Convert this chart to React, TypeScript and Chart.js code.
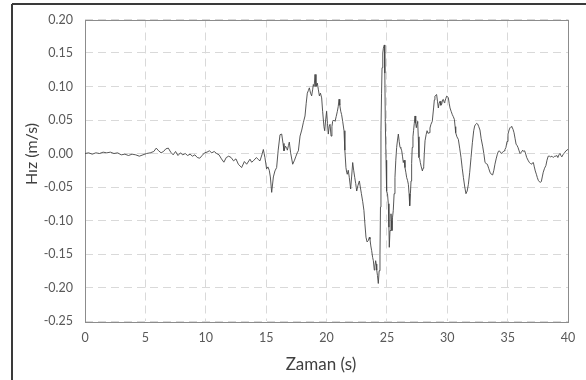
import React, { useEffect, useRef } from "react";
import { Chart, registerables } from "chart.js";

Chart.register(...registerables);

const X_TITLE = "Zaman (s)";
const Y_TITLE = "Hız (m/s)";
const X_MIN = 0;
const X_MAX = 40;
const X_STEP = 5;
const Y_MIN = -0.25;
const Y_MAX = 0.2;
const Y_STEP = 0.05;

// time (s)
const TIME_S: number[] = [
  0, 0.3, 0.6, 0.9, 1.2, 1.5, 1.8, 2.1, 2.4, 2.7,
  3.0, 3.3, 3.6, 3.9, 4.2, 4.5, 4.8, 5.1, 5.4, 5.7,
  5.9, 6.1, 6.3, 6.5, 6.7, 6.9, 7.1, 7.3, 7.5, 7.7,
  7.9, 8.1, 8.3, 8.5, 8.7, 8.9, 9.1, 9.3, 9.5, 9.7,
  9.9, 10.1, 10.3, 10.5, 10.7, 10.9, 11.1, 11.3, 11.5, 11.7,
  11.9, 12.1, 12.3, 12.5, 12.7, 12.97, 13.2, 13.39, 13.66, 13.8,
  13.94, 14.2, 14.35, 14.49, 14.65, 14.77, 14.9, 15.04, 15.15, 15.26,
  15.35, 15.46, 15.6, 15.73, 15.87, 16.0, 16.15, 16.29, 16.4, 16.48,
  16.6, 16.7, 16.76, 16.85, 16.92, 17.03, 17.2, 17.35, 17.47, 17.6,
  17.67, 17.81, 17.95, 18.08, 18.22, 18.32, 18.41, 18.5, 18.58, 18.68,
  18.77, 18.85, 18.91, 18.98, 19.05, 19.13, 19.24, 19.32, 19.41, 19.5,
  19.6, 19.68, 19.79, 19.85, 19.93, 20.01, 20.08, 20.15, 20.22, 20.29,
  20.38, 20.45, 20.51, 20.6, 20.71, 20.8, 20.9, 20.97, 21.04, 21.1,
  21.18, 21.25, 21.34, 21.45, 21.52, 21.61, 21.67, 21.72, 21.8, 21.89,
  22.0, 22.08, 22.17, 22.25, 22.34, 22.42, 22.5, 22.6, 22.72, 22.8,
  22.89, 23.0, 23.1, 23.18, 23.27, 23.36, 23.46, 23.55, 23.6, 23.67,
  23.74, 23.82, 23.88, 23.96, 24.01, 24.07, 24.12, 24.16, 24.22, 24.29,
  24.36, 24.43, 24.47, 24.51, 24.56, 24.6, 24.66, 24.71, 24.79, 24.83,
  24.87, 24.93, 24.98, 25.05, 25.12, 25.17, 25.2, 25.26, 25.34, 25.38,
  25.42, 25.47, 25.53, 25.6, 25.67, 25.74, 25.81, 25.88, 25.95, 26.02,
  26.09, 26.16, 26.23, 26.3, 26.36, 26.43, 26.5, 26.57, 26.64, 26.71,
  26.78, 26.84, 26.89, 26.95, 27.0, 27.05, 27.1, 27.16, 27.21, 27.27,
  27.33, 27.39, 27.44, 27.5, 27.55, 27.6, 27.66, 27.72, 27.77, 27.85,
  27.94, 28.0, 28.05, 28.1, 28.16, 28.25, 28.33, 28.41, 28.49, 28.57,
  28.65, 28.76, 28.87, 28.93, 28.98, 29.05, 29.12, 29.19, 29.26, 29.33,
  29.4, 29.47, 29.54, 29.61, 29.68, 29.75, 29.81, 29.88, 29.95, 30.02,
  30.09, 30.16, 30.23, 30.32, 30.42, 30.5, 30.59, 30.65, 30.7, 30.8,
  30.92, 31.03, 31.14, 31.24, 31.34, 31.45, 31.55, 31.65, 31.75, 31.86,
  31.97, 32.08, 32.19, 32.27, 32.35, 32.44, 32.52, 32.61, 32.71, 32.81,
  32.93, 33.03, 33.13, 33.22, 33.32, 33.43, 33.54, 33.65, 33.76, 33.86,
  33.95, 34.05, 34.15, 34.23, 34.31, 34.4, 34.48, 34.59, 34.7, 34.78,
  34.86, 34.95, 35.03, 35.12, 35.2, 35.28, 35.36, 35.45, 35.53, 35.62,
  35.7, 35.78, 35.86, 35.95, 36.03, 36.14, 36.25, 36.33, 36.41, 36.5,
  36.58, 36.69, 36.8, 36.9, 36.99, 37.06, 37.13, 37.21, 37.29, 37.38,
  37.46, 37.54, 37.62, 37.7, 37.79, 37.87, 37.95, 38.06, 38.17, 38.26,
  38.36, 38.46, 38.56, 38.67, 38.78, 38.89, 39.0, 39.08, 39.16, 39.25,
  39.33, 39.41, 39.49, 39.58, 39.66, 39.75, 39.83, 39.92, 40.0,
];

// velocity (m/s)
const VELOCITY_MS: number[] = [
  0, 0.001, -0.001, 0.001, 0, 0.002, 0.001, 0.002, 0, 0.001,
  -0.002, -0.001, -0.003, -0.001, -0.002, -0.004, -0.002, 0, 0.001, 0.003,
  0.008, 0.004, 0.001, 0.003, 0.007, 0.008, 0.002, -0.002, 0.003, -0.003,
  0.001, -0.002, 0, -0.003, -0.001, -0.004, -0.002, -0.006, -0.007, -0.003,
  0.001, 0.002, 0.004, 0.001, 0.003, 0, -0.002, -0.008, -0.013, -0.006,
  -0.004, -0.006, -0.011, -0.008, -0.016, -0.021, -0.012, -0.016, -0.0085, -0.013,
  -0.011, -0.006, -0.009, -0.011, -0.002, 0.006, -0.006, -0.023, -0.02, -0.025,
  -0.035, -0.058, -0.035, -0.026, -0.021, 0.005, 0.028, 0.029, 0.015, 0.004,
  0.011, 0.008, 0.005, 0.012, 0.017, 0.001, -0.016, -0.01, -0.004, 0.002,
  0.004, 0.026, 0.035, 0.046, 0.056, 0.075, 0.09, 0.094, 0.098, 0.09,
  0.086, 0.095, 0.103, 0.1, 0.118, 0.1, 0.105, 0.096, 0.086, 0.09,
  0.083, 0.063, 0.04, 0.034, 0.05, 0.063, 0.045, 0.029, 0.04, 0.0435,
  0.026, 0.04, 0.048, 0.05, 0.048, 0.055, 0.063, 0.07, 0.081, 0.072,
  0.063, 0.058, 0.048, 0.034, 0.005, -0.021, -0.028, -0.031, -0.025, -0.036,
  -0.053, -0.035, -0.0135, -0.025, -0.036, -0.045, -0.056, -0.048, -0.041, -0.05,
  -0.06, -0.072, -0.085, -0.105, -0.125, -0.132, -0.13, -0.125, -0.128, -0.138,
  -0.145, -0.155, -0.16, -0.174, -0.168, -0.16, -0.165, -0.174, -0.182, -0.194,
  -0.175, -0.15, -0.08, 0.034, 0.09, 0.128, 0.15, 0.157, 0.162, 0.12,
  0.048, -0.01, -0.056, -0.06, -0.075, -0.11, -0.14, -0.115, -0.09, -0.1,
  -0.115, -0.095, -0.085, -0.06, -0.036, -0.01, 0.009, 0.02, 0.029, 0.018,
  0.009, 0.008, 0.004, -0.005, -0.0135, -0.01, -0.021, -0.028, -0.036, -0.04,
  -0.046, -0.06, -0.078, -0.06, -0.041, -0.015, 0.009, 0.025, 0.034, 0.045,
  0.056, 0.045, 0.0385, 0.045, 0.048, 0.025, -0.006, -0.008, -0.0135, -0.02,
  -0.026, -0.022, -0.019, 0, 0.019, 0.028, 0.034, 0.03, 0.031, 0.038,
  0.0435, 0.048, 0.068, 0.08, 0.0856, 0.087, 0.088, 0.078, 0.068, 0.075,
  0.078, 0.072, 0.0735, 0.08, 0.0807, 0.076, 0.078, 0.082, 0.0856, 0.085,
  0.083, 0.075, 0.068, 0.063, 0.058, 0.055, 0.051, 0.04, 0.031, 0.025,
  0.021, 0.008, -0.006, -0.022, -0.036, -0.05, -0.06, -0.056, -0.046, -0.028,
  -0.006, 0.016, 0.034, 0.041, 0.0435, 0.045, 0.044, 0.04, 0.035, 0.022,
  0.011, 0, -0.0135, -0.015, -0.016, -0.022, -0.028, -0.031, -0.032, -0.025,
  -0.016, -0.008, -0.001, 0.003, 0.004, 0.002, 0, 0.002, 0.004, 0.006,
  0.009, 0.018, 0.029, 0.035, 0.0385, 0.04, 0.0395, 0.036, 0.031, 0.022,
  0.014, 0.012, 0.009, 0.004, 0, 0.002, 0.005, 0.003, 0.004, -0.001,
  -0.006, -0.01, -0.0135, -0.015, -0.016, -0.014, -0.0135, -0.02, -0.026, -0.031,
  -0.036, -0.04, -0.042, -0.043, -0.042, -0.035, -0.028, -0.022, -0.018, -0.01,
  -0.004, -0.004, -0.005, -0.004, -0.006, -0.004, -0.004, -0.003, -0.006, -0.002,
  0, -0.003, -0.005, -0.002, 0, 0.002, 0.004, 0.005, 0.0064,
];

const FONT = "Lato, 'Open Sans', sans-serif";

const framePlugin = {
  id: "frame",
  beforeDatasetsDraw(chart: any) {
    const { ctx, chartArea } = chart;
    const { left, top, right, bottom } = chartArea;
    ctx.save();
    ctx.strokeStyle = "#8c8c8c";
    ctx.lineWidth = 1;
    ctx.setLineDash([]);
    ctx.strokeRect(Math.round(left) + 0.5, Math.round(top) + 0.5, Math.round(right - left), Math.round(bottom - top));
    ctx.restore();
  },
  afterDraw(chart: any) {
    const { ctx } = chart;
    ctx.save();
    ctx.strokeStyle = "#3a3a3a";
    ctx.lineWidth = 2;
    ctx.beginPath();
    ctx.moveTo(12, 4);
    ctx.lineTo(chart.width, 4);
    ctx.moveTo(12, 4);
    ctx.lineTo(12, chart.height);
    ctx.stroke();
    ctx.fillStyle = "#404040";
    ctx.textAlign = "center";
    ctx.textBaseline = "middle";
    ctx.font = `17px ${FONT}`;
    ctx.fillText(X_TITLE, 321, 365);
    ctx.font = `16px ${FONT}`;
    ctx.translate(32, 154);
    ctx.rotate(-Math.PI / 2);
    ctx.fillText(Y_TITLE, 0, 0);
    ctx.restore();
  },
};

export default function App() {
  const ref = useRef<HTMLCanvasElement | null>(null);
  useEffect(() => {
    if (!ref.current) return;
    const data = TIME_S.map((t, i) => ({ x: t, y: VELOCITY_MS[i] }));
    const chart = new Chart(ref.current, {
      type: "line",
      data: {
        datasets: [
          {
            data,
            borderColor: "#454545",
            borderWidth: 0.9,
            pointRadius: 0,
            tension: 0,
            fill: false,
          },
        ],
      },
      options: {
        animation: false,
        responsive: false,
        maintainAspectRatio: false,
        layout: { padding: { left: 0, top: 18, right: 18, bottom: 0 } },
        plugins: { legend: { display: false }, tooltip: { enabled: false } },
        scales: {
          x: {
            type: "linear",
            min: X_MIN,
            max: X_MAX,
            afterFit: (s: any) => {
              s.height = 59;
            },
            ticks: {
              stepSize: X_STEP,
              padding: 9,
              color: "#595959",
              font: { family: FONT, size: 12.5 },
              callback: (v: any) => String(v),
            },
            grid: { color: "#d9d9d9", drawTicks: false, lineWidth: 1 },
            border: { display: false, dash: [8, 5] },
          },
          y: {
            type: "linear",
            min: Y_MIN,
            max: Y_MAX,
            afterFit: (s: any) => {
              s.width = 85;
            },
            ticks: {
              stepSize: Y_STEP,
              padding: 12,
              color: "#595959",
              font: { family: FONT, size: 12.5 },
              callback: (v: any) => Number(v).toFixed(2),
            },
            grid: { color: "#d9d9d9", drawTicks: false, lineWidth: 1 },
            border: { display: false, dash: [8, 5] },
          },
        },
      },
      plugins: [framePlugin],
    });
    return () => chart.destroy();
  }, []);
  return (
    <div style={{ position: "fixed", left: 0, top: 0, width: 586, height: 380, background: "#fff" }}>
      <canvas ref={ref} width={586} height={380} style={{ display: "block" }} />
    </div>
  );
}
